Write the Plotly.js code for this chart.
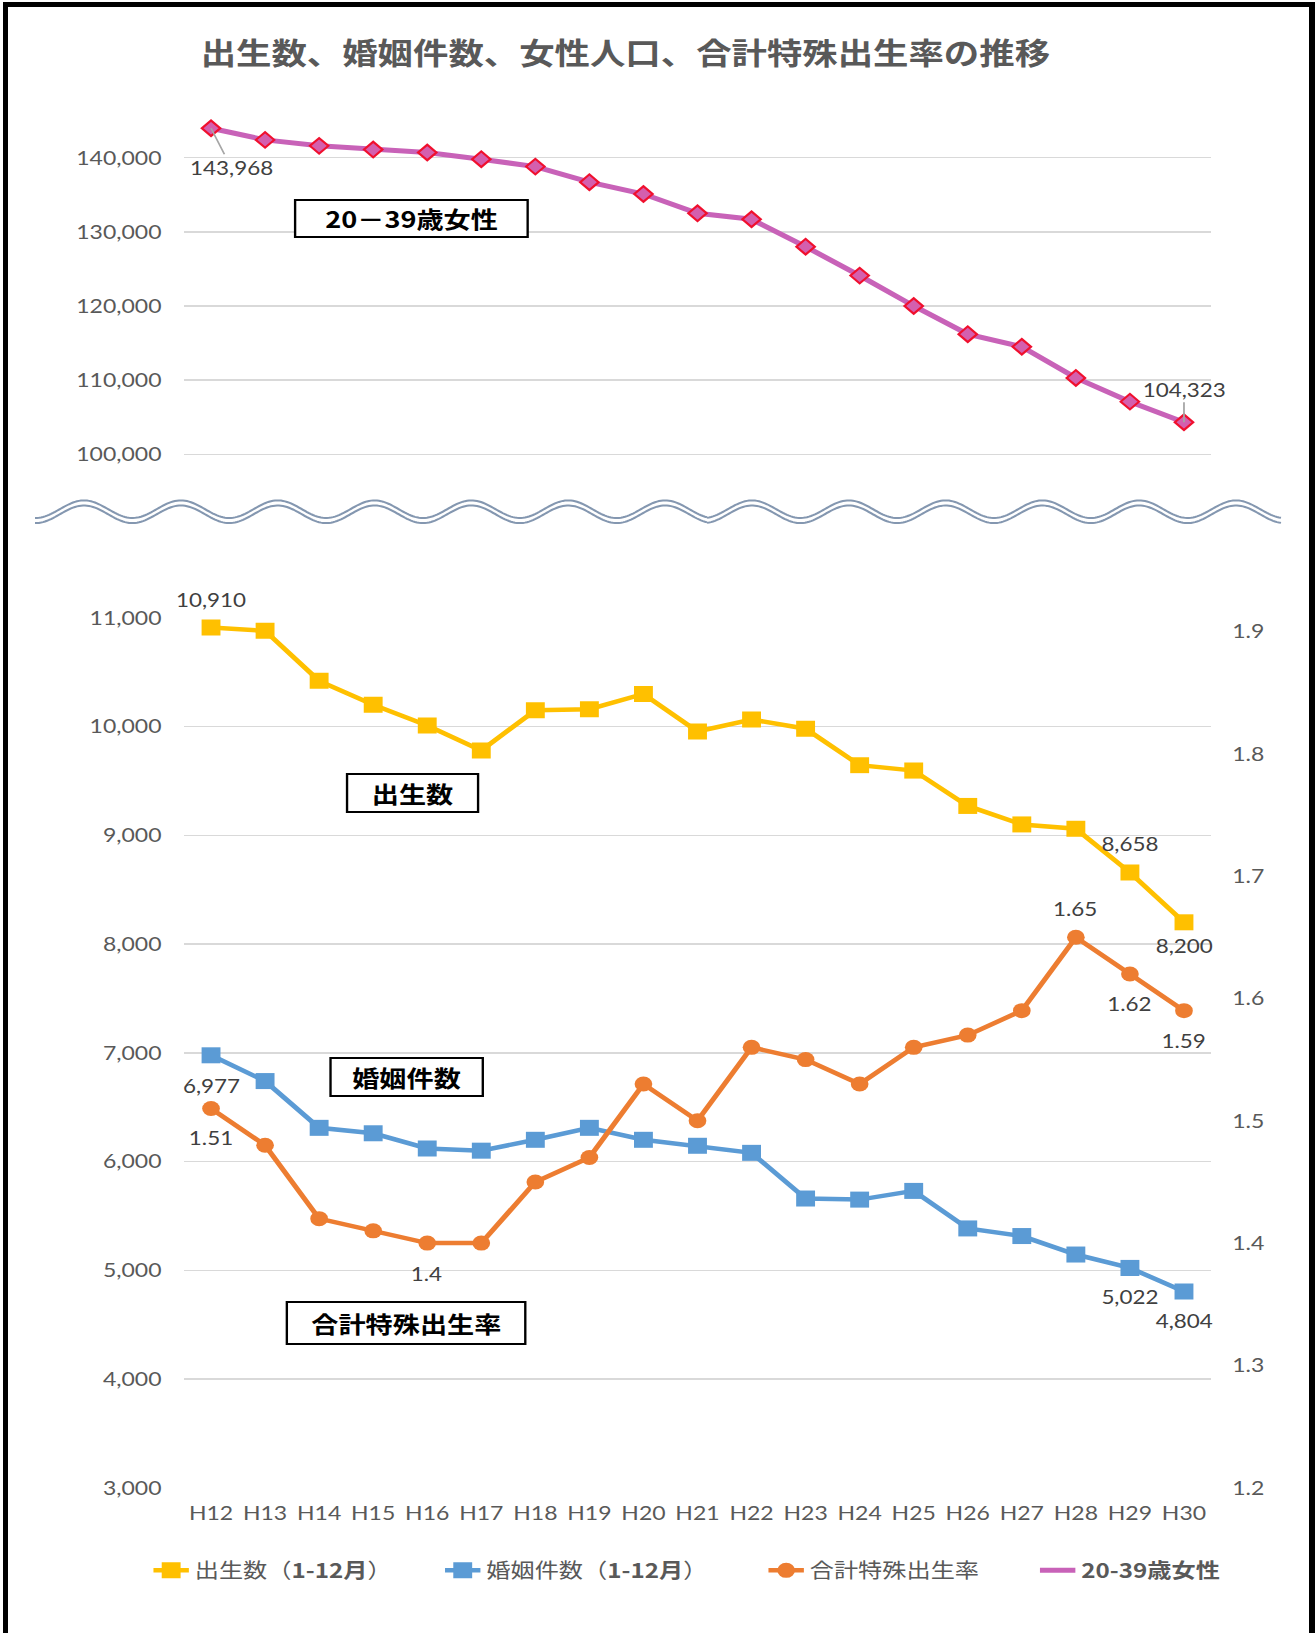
<!DOCTYPE html>
<html>
<head>
<meta charset="utf-8">
<script src="https://cdn.plot.ly/plotly-3.0.1.min.js"></script>
<style>
  html, body { margin: 0; padding: 0; background: #ffffff; }
  #wrap { position: relative; width: 1315px; height: 1633px; overflow: hidden; background: #ffffff; }
  #chart { position: absolute; left: 0; top: 0; width: 1114px; height: 1633px; transform: scaleX(1.180431); transform-origin: 0 0; }
  #frame { position: absolute; left: 3px; top: 2px; width: 1312px; height: 1640px; box-sizing: border-box;
           border-top: 5px solid #000; border-left: 5px solid #000; border-right: 6px solid #000; border-bottom: none; pointer-events: none; }
</style>
</head>
<body>
<div id="wrap">
  <div id="chart"></div>
  <div id="frame"></div>
</div>
<script>
// ---------------- data ----------------
const categories = ['H12','H13','H14','H15','H16','H17','H18','H19','H20','H21','H22','H23','H24','H25','H26','H27','H28','H29','H30'];
const births = [10910, 10880, 10420, 10200, 10010, 9780, 10150, 10160, 10300, 9955, 10065, 9980, 9645, 9595, 9270, 9100, 9060, 8658, 8200];
const marriages = [6977, 6740, 6310, 6260, 6120, 6100, 6200, 6310, 6200, 6145, 6080, 5660, 5650, 5730, 5385, 5315, 5145, 5022, 4804];
const tfr = [1.51, 1.48, 1.42, 1.41, 1.40, 1.40, 1.45, 1.47, 1.53, 1.50, 1.56, 1.55, 1.53, 1.56, 1.57, 1.59, 1.65, 1.62, 1.59];
const women = [143968, 142400, 141600, 141100, 140700, 139800, 138800, 136700, 135100, 132500, 131700, 128000, 124100, 120000, 116200, 114500, 110300, 107100, 104323];

const seriesNames = ['出生数（<b>1-12月</b>）', '婚姻件数（<b>1-12月</b>）', '合計特殊出生率', '<b>20-39歳女性</b>'];
const boxLabels = ['20－39歳女性', '出生数', '婚姻件数', '合計特殊出生率'];
const titleText = '出生数、婚姻件数、女性人口、合計特殊出生率の推移';

// ---------------- geometry helpers (page pixels -> paper) ----------------
const W0 = 1114, H = 1633, S = 1315 / 1114;
const PX = x => (x / S) / W0;          // real page x -> paper x
const PY = y => 1 - y / H;             // real page y -> paper y

const CJK = '"Noto Sans CJK JP", "Noto Sans", sans-serif';
const NUM = 'Lato, "Noto Sans", sans-serif';
const gray = '#595959';

const fmt = v => v >= 100 ? v.toLocaleString('en-US') : String(v);

// ---------------- traces ----------------
const traces = [
  { x: categories, y: births, name: seriesNames[0], type: 'scatter', mode: 'lines+markers',
    xaxis: 'x', yaxis: 'y', legend: 'legend',
    line: { color: '#FFC000', width: 4.5 }, marker: { symbol: 'square', size: 16, color: '#FFC000' } },
  { x: categories, y: marriages, name: seriesNames[1], type: 'scatter', mode: 'lines+markers',
    xaxis: 'x', yaxis: 'y', legend: 'legend2',
    line: { color: '#5B9BD5', width: 4.5 }, marker: { symbol: 'square', size: 16, color: '#5B9BD5' } },
  { x: categories, y: tfr, name: seriesNames[2], type: 'scatter', mode: 'lines+markers',
    xaxis: 'x', yaxis: 'y2', legend: 'legend3',
    line: { color: '#ED7D31', width: 4.5 }, marker: { symbol: 'circle', size: 15, color: '#ED7D31' } },
  { x: categories, y: women, name: seriesNames[3], type: 'scatter', mode: 'lines+markers',
    xaxis: 'x', yaxis: 'y3', showlegend: false,
    line: { color: '#C862B8', width: 5 },
    marker: { symbol: 'diamond', size: 12, color: '#D45FAE', line: { color: '#F0102E', width: 2 } } },
  // legend entry for the women series (line only, as in the original legend)
  { x: [categories[0]], y: [null], name: seriesNames[3], type: 'scatter', mode: 'lines',
    xaxis: 'x', yaxis: 'y3', legend: 'legend4', hoverinfo: 'skip',
    line: { color: '#C862B8', width: 5 } }
];

// ---------------- annotations ----------------
const annotations = [];
function addLabels(values, idx, yref, shifts) {
  idx.forEach((i, k) => {
    annotations.push({ x: categories[i], y: values[i], xref: 'x', yref: yref, text: fmt(values[i]),
      showarrow: false, yshift: shifts[k], font: { family: NUM, size: 19, color: '#404040' } });
  });
}
addLabels(births, [0, 17, 18], 'y', [28, 29, -23]);
addLabels(marriages, [0, 17, 18], 'y', [-30, -29, -29]);
addLabels(tfr, [0, 4, 16, 17, 18], 'y2', [-29, -30, 29, -30, -30]);
// women: labels with leader lines
annotations.push({ x: categories[0], y: women[0], xref: 'x', yref: 'y3', text: fmt(women[0]),
  showarrow: true, arrowhead: 0, arrowwidth: 1.5, arrowcolor: '#A6A6A6', ax: 17, ay: 39,
  font: { family: NUM, size: 19, color: '#404040' } });
annotations.push({ x: categories[18], y: women[18], xref: 'x', yref: 'y3', text: fmt(women[18]),
  showarrow: true, arrowhead: 0, arrowwidth: 1.5, arrowcolor: '#A6A6A6', ax: 0, ay: -33,
  font: { family: NUM, size: 19, color: '#404040' } });

// boxed series captions
const boxes = [
  { t: boxLabels[0], cx: 411, cy: 218.7, w: 233, h: 37 },
  { t: boxLabels[1], cx: 413, cy: 792.5, w: 131, h: 38 },
  { t: boxLabels[2], cx: 406.6, cy: 1076.6, w: 152, h: 38 },
  { t: boxLabels[3], cx: 405.7, cy: 1322.8, w: 239, h: 42 }
];
boxes.forEach(b => {
  annotations.push({ xref: 'paper', yref: 'paper', x: PX(b.cx), y: PY(b.cy), xanchor: 'center', yanchor: 'middle',
    text: '<b>' + b.t + '</b>', showarrow: false, width: b.w / S - 2, height: b.h - 2,
    bordercolor: '#000000', borderwidth: 2, borderpad: 0, bgcolor: '#ffffff', align: 'center', valign: 'middle',
    font: { family: CJK, size: 23, color: '#000000' } });
});

// ---------------- decorative wavy break line ----------------
function wavePath(x0, x1, crest, lambda, mid, amp) {
  let d = '';
  for (let x = x0; x <= x1 + 0.01; x += 2) {
    const y = mid - amp * Math.cos(2 * Math.PI * (x - crest) / lambda);
    d += (d ? ' L ' : 'M ') + PX(x).toFixed(5) + ',' + PY(y).toFixed(5);
  }
  return d;
}
const shapes = [];
[[35, 707, 84, 96.85], [707, 1281, 752, 96.8]].forEach(p => {
  [[509.2, 8.8], [514.3, 8.8]].forEach(m => {
    shapes.push({ type: 'path', xref: 'paper', yref: 'paper', path: wavePath(p[0], p[1], p[2], p[3], m[0], m[1]),
      line: { color: '#8497B0', width: 2 } });
  });
});

// ---------------- layout ----------------
const legendBase = { orientation: 'h', yanchor: 'middle', xanchor: 'left', y: PY(1570.5), bgcolor: 'rgba(0,0,0,0)',
  font: { family: CJK, size: 20.5, color: gray } };
const tickFont = { family: NUM, size: 19.5, color: gray };

const layout = {
  width: W0, height: H,
  margin: { l: 0, r: 0, t: 0, b: 0, autoexpand: false },
  paper_bgcolor: '#ffffff', plot_bgcolor: 'rgba(0,0,0,0)',
  title: { text: '<b>' + titleText + '</b>', xref: 'container', yref: 'container', x: 170 / W0, xanchor: 'left',
    y: PY(54), yanchor: 'middle', font: { family: CJK, size: 30, color: gray } },
  xaxis: { type: 'category', domain: [184 / S / W0, 1211 / S / W0], range: [-0.5, 18.5], anchor: 'y',
    showgrid: false, zeroline: false, showline: false, ticks: '', ticklabelstandoff: 12,
    tickfont: tickFont },
  yaxis: { domain: [PY(1487.8), PY(617.8)], range: [3000, 11000], tickmode: 'linear', tick0: 3000, dtick: 1000,
    tickformat: ',', showgrid: true, gridcolor: '#D9D9D9', gridwidth: 1.5, zeroline: false, showline: false,
    ticks: '', ticklabelstandoff: 18, tickfont: tickFont },
  yaxis2: { overlaying: 'y', side: 'right', anchor: 'x', range: [1.2, 1.9111], tickmode: 'linear', tick0: 1.2, dtick: 0.1,
    tickformat: '.1f', showgrid: false, zeroline: false, showline: false, ticks: '', ticklabelstandoff: 17,
    tickfont: tickFont },
  yaxis3: { domain: [PY(470), PY(110)], range: [97883, 146433], anchor: 'x', tickmode: 'linear', tick0: 0, dtick: 10000,
    tickformat: ',', showgrid: true, gridcolor: '#D9D9D9', gridwidth: 1.5, zeroline: false, showline: false,
    ticks: '', ticklabelstandoff: 18, tickfont: tickFont },
  legend: Object.assign({}, legendBase, { x: 125 / W0 }),
  legend2: Object.assign({}, legendBase, { x: 372 / W0 }),
  legend3: Object.assign({}, legendBase, { x: 646 / W0 }),
  legend4: Object.assign({}, legendBase, { x: 876 / W0 }),
  annotations: annotations,
  shapes: shapes,
  showlegend: true
};

Plotly.newPlot('chart', traces, layout, { displayModeBar: false, staticPlot: true });
</script>
</body>
</html>
